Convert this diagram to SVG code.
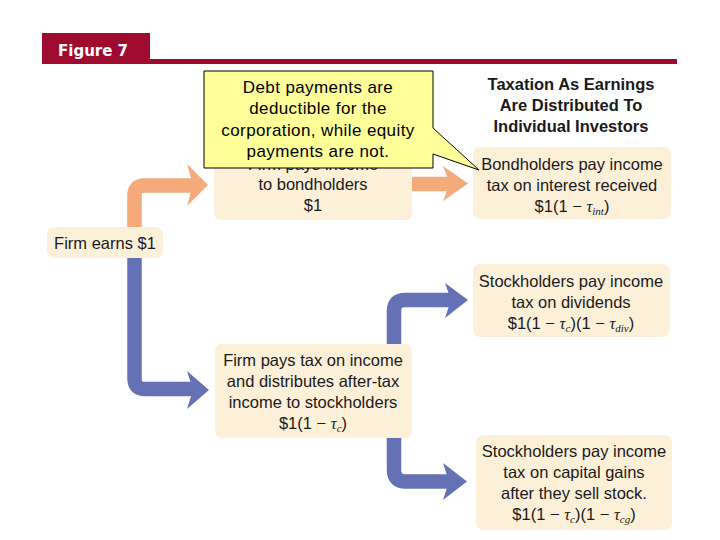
<svg xmlns="http://www.w3.org/2000/svg" width="720" height="540" viewBox="0 0 720 540">
<style>
.box{fill:#fdf0d9;stroke:none}
.t{font-family:"Liberation Sans",Arial,sans-serif;font-size:16.5px;fill:#1a1a1a;text-anchor:middle}
.tau{font-family:"Liberation Serif","Times New Roman",serif;font-style:italic}
.sub{font-family:"Liberation Serif","Times New Roman",serif;font-style:italic;font-size:11px}
.title{font-family:"Liberation Sans",Arial,sans-serif;font-size:16.5px;font-weight:bold;fill:#1a1a1a;text-anchor:middle}
.call{font-family:"Liberation Sans",Arial,sans-serif;font-size:17px;letter-spacing:0.4px;fill:#000;text-anchor:middle}
.or{fill:none;stroke:#f4aa7b;stroke-width:14.5}
.orh{fill:#f4aa7b}
.bl{fill:none;stroke:#6471b5;stroke-width:14.5}
.blh{fill:#6471b5}
</style>
<rect width="720" height="540" fill="#ffffff"/>
<g id="header">
<rect x="42" y="33" width="108" height="31" fill="#9e0b2e"/>
<rect x="42" y="59" width="635" height="5" fill="#9e0b2e"/>
<text x="58" y="56" font-family="DejaVu Sans,Verdana,sans-serif" font-weight="bold" font-size="15" fill="#ffffff">Figure 7</text>
</g>
<g id="title">
<text class="title" x="571" y="90">Taxation As Earnings</text>
<text class="title" x="571" y="111">Are Distributed To</text>
<text class="title" x="571" y="132">Individual Investors</text>
</g>
<g id="connectors">
<path class="or" d="M134.5,227 V195.5 Q134.5,185.5 144.5,185.5 H194"/>
<polygon class="orh" points="208,185 187,164 193,185 187,206"/>
<path class="or" d="M412,184 H452"/>
<polygon class="orh" points="468,183.5 443,166 450,183.5 443,201"/>
<path class="bl" d="M134.5,258 V378.5 Q134.5,389 145,389 H194"/>
<polygon class="blh" points="209,390 187,371 193,390 187,409"/>
<path class="bl" d="M394,344 V311 Q394,300 405,300 H452"/>
<polygon class="blh" points="468,300 445,283 451,300 445,318"/>
<path class="bl" d="M394,438 V470 Q394,481.5 405.5,481.5 H450"/>
<polygon class="blh" points="467,481.5 443,463 449,481.5 443,500"/>
</g>
<g id="firm-earns">
<rect class="box" x="47" y="227" width="116" height="31" rx="7"/>
<text class="t" x="105" y="249">Firm earns $1</text>
</g>
<g id="pays-bondholders">
<rect class="box" x="214" y="147" width="198" height="73" rx="7"/>
<text class="t" x="313" y="170">Firm pays income</text>
<text class="t" x="313" y="190">to bondholders</text>
<text class="t" x="313" y="211">$1</text>
</g>
<g id="bondholders-tax">
<rect class="box" x="473" y="147" width="198" height="72" rx="7"/>
<text class="t" x="572" y="170">Bondholders pay income</text>
<text class="t" x="572" y="191">tax on interest received</text>
<text class="t" x="572" y="212">$1(1 − <tspan class="tau">τ</tspan><tspan class="sub" dy="3">int</tspan><tspan dy="-3">)</tspan></text>
</g>
<g id="firm-pays-tax">
<rect class="box" x="215" y="344" width="197" height="94" rx="7"/>
<text class="t" x="313" y="366">Firm pays tax on income</text>
<text class="t" x="313" y="387">and distributes after-tax</text>
<text class="t" x="313" y="408">income to stockholders</text>
<text class="t" x="313" y="429">$1(1 − <tspan class="tau">τ</tspan><tspan class="sub" dy="3">c</tspan><tspan dy="-3">)</tspan></text>
</g>
<g id="dividends">
<rect class="box" x="473" y="264" width="197" height="73" rx="7"/>
<text class="t" x="571" y="287">Stockholders pay income</text>
<text class="t" x="571" y="308">tax on dividends</text>
<text class="t" x="571" y="329">$1(1 − <tspan class="tau">τ</tspan><tspan class="sub" dy="3">c</tspan><tspan dy="-3">)(1 − </tspan><tspan class="tau">τ</tspan><tspan class="sub" dy="3">div</tspan><tspan dy="-3">)</tspan></text>
</g>
<g id="capital-gains">
<rect class="box" x="476" y="435" width="196" height="95" rx="7"/>
<text class="t" x="574" y="457">Stockholders pay income</text>
<text class="t" x="574" y="478">tax on capital gains</text>
<text class="t" x="574" y="499">after they sell stock.</text>
<text class="t" x="574" y="520">$1(1 − <tspan class="tau">τ</tspan><tspan class="sub" dy="3">c</tspan><tspan dy="-3">)(1 − </tspan><tspan class="tau">τ</tspan><tspan class="sub" dy="3">cg</tspan><tspan dy="-3">)</tspan></text>
</g>
<g id="callout">
<path d="M204,71 H433 V128 L479,170 L433,154 V168 H204 Z" fill="#ffff99" stroke="#000" stroke-width="1"/>
<text class="call" x="318" y="93">Debt payments are</text>
<text class="call" x="318" y="114">deductible for the</text>
<text class="call" x="318" y="136">corporation, while equity</text>
<text class="call" x="318" y="157">payments are not.</text>
</g>
</svg>
